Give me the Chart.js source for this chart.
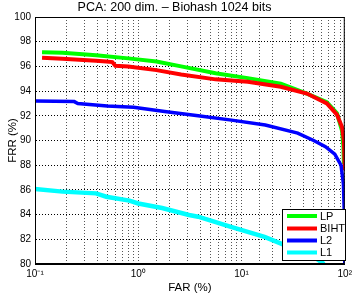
<!DOCTYPE html>
<html>
<head>
<meta charset="utf-8">
<script src="https://cdn.jsdelivr.net/npm/chart.js@4/dist/chart.umd.min.js"></script>
<style>
  html, body { margin: 0; padding: 0; background: #fff; }
  #wrap { width: 356px; height: 295px; }
</style>
</head>
<body>
<div id="wrap"><canvas id="roc"></canvas></div>
<script>
// FAR (%) / FRR (%) pairs
const lpFar   = [0.117, 0.185, 0.39, 0.8, 1.5, 2.6, 5.6, 11.5, 24, 43, 67, 84, 94, 97, 98];
const lpFrr   = [97.15, 97.1, 96.9, 96.65, 96.4, 96.0, 95.45, 95.05, 94.6, 93.8, 93.1, 92.2, 90.8, 89.5, 88.1];

const bihtFar = [0.117, 0.185, 0.39, 0.49, 0.56, 0.6, 0.8, 1.5, 2.6, 5.6, 11.5, 24, 43, 67, 84, 94, 98, 100];
const bihtFrr = [96.7, 96.62, 96.45, 96.4, 96.35, 96.05, 96.0, 95.7, 95.35, 94.95, 94.75, 94.35, 93.8, 93.0, 92.1, 91.1, 90.0, 87.6];

const l2Far   = [0.1, 0.24, 0.26, 0.5, 0.9, 1.8, 3.8, 8, 17, 35, 50, 65, 80, 92, 97, 99, 100];
const l2Frr   = [93.2, 93.15, 93.0, 92.8, 92.7, 92.35, 92.0, 91.65, 91.25, 90.6, 90.0, 89.5, 88.9, 88.0, 86.5, 84.0, 80.0];

const l1Far   = [0.1, 0.185, 0.39, 0.49, 0.82, 1.0, 1.7, 3.1, 3.8, 7.9, 16.7, 35, 50, 63];
const l1Frr   = [86.07, 85.86, 85.72, 85.45, 85.13, 84.9, 84.53, 83.97, 83.83, 83.0, 82.2, 81.1, 80.6, 80.0];

const yTicks = [80, 82, 84, 86, 88, 90, 92, 94, 96, 98, 100];
const xTickLabels = { '-1': '10\u207B\u00B9', '0': '10\u2070', '1': '10\u00B9', '2': '10\u00B2' };

const FONT = 'Liberation Sans, Arial, Helvetica, sans-serif';

function toPoints(xs, ys) {
    return xs.map((x, i) => ({ x: x, y: ys[i] }));
}

function series(label, xs, ys, color, width, order) {
    return {
        label: label,
        data: toPoints(xs, ys),
        borderColor: color,
        backgroundColor: color,
        borderWidth: width,
        pointRadius: 0,
        tension: 0,
        order: order
    };
}

// box round the plot + legend inside the axes, MATLAB style
const boxAndLegend = {
    id: 'boxAndLegend',
    afterDatasetsDraw(chart) {
        const ctx = chart.ctx;
        const a = chart.chartArea;
        ctx.save();
        ctx.strokeStyle = '#000';
        ctx.lineWidth = 1;
        ctx.setLineDash([]);
        ctx.strokeRect(a.left + 0.5, a.top + 0.5, a.right - a.left - 1, a.bottom - a.top - 1);

        // legend
        const bx = 282, by = 209, bw = 63, bh = 51;
        ctx.fillStyle = '#fff';
        ctx.fillRect(bx, by, bw, bh);
        ctx.strokeRect(bx + 0.5, by + 0.5, bw, bh);
        ctx.font = '11px ' + FONT;
        ctx.textBaseline = 'middle';
        ctx.textAlign = 'left';
        const rows = [216, 228.5, 240.5, 252.5];
        chart.data.datasets.forEach((ds, i) => {
            const y = rows[i];
            ctx.strokeStyle = ds.borderColor;
            ctx.lineWidth = 4;
            ctx.beginPath();
            ctx.moveTo(287, y);
            ctx.lineTo(317, y);
            ctx.stroke();
            ctx.fillStyle = '#000';
            ctx.fillText(ds.label, 320, y + 0.5);
        });
        ctx.restore();
    }
};

const ctx = document.getElementById('roc');
new Chart(ctx, {
    type: 'line',
    data: {
        datasets: [
            series('LP', lpFar, lpFrr, '#00ff00', 4, 4),
            series('BIHT', bihtFar, bihtFrr, '#ff0000', 4, 3),
            series('L2', l2Far, l2Frr, '#0000ff', 3.5, 2),
            series('L1', l1Far, l1Frr, '#00ffff', 4.5, 1)
        ]
    },
    options: {
        responsive: true,
        maintainAspectRatio: false,
        animation: false,
        layout: { padding: { left: 0, right: 7, top: 0, bottom: 0 } },
        plugins: {
            legend: { display: false },
            tooltip: { enabled: false },
            title: {
                display: true,
                text: 'PCA: 200 dim. \u2013 Biohash 1024 bits',
                color: '#000',
                font: { family: FONT, size: 12.5, weight: 'normal', lineHeight: 1.2 },
                padding: { top: 0, bottom: 2 }
            }
        },
        scales: {
            x: {
                type: 'logarithmic',
                min: 0.1,
                max: 100,
                afterFit(s) { s.height = 31; },
                grid: {
                    color: '#555',
                    lineWidth: 1,
                    drawTicks: false
                },
                border: { display: true, color: '#000', dash: [1, 2] },
                ticks: {
                    autoSkip: false,
                    maxRotation: 0,
                    padding: 4,
                    color: '#000',
                    font: { family: FONT, size: 10 },
                    callback(value) {
                        const e = Math.log10(value);
                        if (Math.abs(e - Math.round(e)) < 1e-9) {
                            return xTickLabels[String(Math.round(e))] || '';
                        }
                        return '';
                    }
                },
                title: {
                    display: true,
                    text: 'FAR (%)',
                    color: '#000',
                    font: { family: FONT, size: 11.5 },
                    padding: { top: 0, bottom: 0 }
                }
            },
            y: {
                min: 80,
                max: 100,
                afterFit(s) { s.width = 35; },
                afterBuildTicks(s) { s.ticks = yTicks.map(v => ({ value: v })); },
                grid: {
                    color: '#000',
                    lineWidth: 1,
                    drawTicks: false
                },
                border: { display: true, color: '#000', dash: [1, 2] },
                ticks: {
                    padding: 4,
                    color: '#000',
                    font: { family: FONT, size: 10 }
                },
                title: {
                    display: true,
                    text: 'FRR (%)',
                    color: '#000',
                    font: { family: FONT, size: 11.5 },
                    padding: { top: 6, bottom: 0 }
                }
            }
        }
    },
    plugins: [boxAndLegend]
});
</script>
</body>
</html>
